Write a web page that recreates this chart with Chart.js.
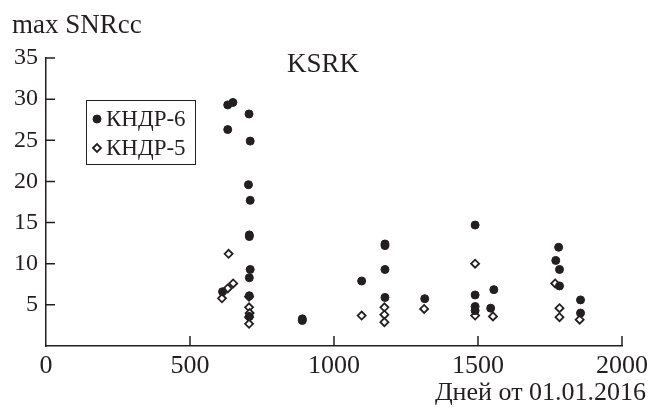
<!DOCTYPE html>
<html>
<head>
<meta charset="utf-8">
<script src="https://cdn.jsdelivr.net/npm/chart.js@4.4.1/dist/chart.umd.min.js"></script>
<style>
html, body { margin: 0; padding: 0; background: #fff; }
</style>
</head>
<body>
<canvas id="myChart" width="661" height="410"></canvas>
<script>
// КНДР-6 (filled dots)
const kndr6Days = [613, 631, 649, 705, 631, 709, 703, 709, 706, 706, 709, 706, 706, 706, 890, 890,
    1096, 1177, 1177, 1177, 1177, 1315, 1490, 1490, 1490, 1490, 1555, 1544, 1770, 1780, 1783, 1783, 1856, 1856];
const kndr6Snr = [6.6, 29.3, 29.6, 28.2, 26.3, 24.9, 19.6, 17.7, 13.5, 13.3, 9.3, 8.3, 6.1, 3.6, 3.3, 3.1,
    7.9, 12.4, 12.2, 9.3, 5.9, 5.75, 14.7, 6.2, 4.8, 4.3, 6.85, 4.6, 10.4, 12.0, 9.3, 7.3, 5.6, 4.0];

// КНДР-5 (open diamonds)
const kndr5Days = [611, 631, 650, 634, 705, 705, 707, 705, 705, 1096, 1175, 1175, 1175, 1313,
    1490, 1490, 1552, 1768, 1783, 1783, 1853];
const kndr5Snr = [5.8, 7.0, 7.6, 11.2, 6.0, 4.7, 4.0, 3.5, 2.7, 3.7, 4.7, 3.8, 2.9, 4.5,
    10.0, 3.7, 3.6, 7.6, 4.6, 3.5, 3.2];

const seriesNames = ['КНДР-6', 'КНДР-5'];
const xTicks = [0, 500, 1000, 1500, 2000];
const yTicks = [0, 5, 10, 15, 20, 25, 30, 35];

const yTitle = 'max SNRcc';
const xTitle = 'Дней от 01.01.2016';
const chartTitle = 'KSRK';

const ink = '#231f20';
const serif = '"Liberation Serif", "Times New Roman", serif';

function pts(xs, ys) {
    return xs.map((x, i) => ({ x: x, y: ys[i] }));
}

function drawMark(ctx, ds, x, y) {
    ctx.save();
    ctx.lineWidth = ds.pointBorderWidth;
    ctx.strokeStyle = ds.pointBorderColor;
    ctx.fillStyle = ds.pointBackgroundColor;
    ctx.beginPath();
    const r = ds.pointRadius;
    if (ds.pointStyle === 'rectRot') {
        ctx.moveTo(x - r, y);
        ctx.lineTo(x, y - r);
        ctx.lineTo(x + r, y);
        ctx.lineTo(x, y + r);
        ctx.closePath();
    } else {
        ctx.arc(x, y, r, 0, Math.PI * 2);
    }
    ctx.fill();
    ctx.stroke();
    ctx.restore();
}

const decor = {
    id: 'decor',
    afterDraw(chart) {
        const ctx = chart.ctx;
        const xs = chart.scales.x, ys = chart.scales.y;
        const a = chart.chartArea;
        ctx.save();
        // inward tick marks
        ctx.strokeStyle = ink;
        ctx.lineWidth = 1.5;
        ctx.beginPath();
        xs.ticks.forEach((t, i) => {
            if (t.value === 0) return;
            const px = xs.getPixelForTick(i);
            ctx.moveTo(px, a.bottom);
            ctx.lineTo(px, a.bottom - 10);
        });
        ys.ticks.forEach((t, i) => {
            if (t.value === 0) return;
            const py = ys.getPixelForTick(i);
            ctx.moveTo(a.left, py);
            ctx.lineTo(a.left + 9, py);
        });
        ctx.stroke();

        // titles
        ctx.fillStyle = ink;
        ctx.font = '27px ' + serif;
        ctx.textBaseline = 'alphabetic';
        ctx.textAlign = 'left';
        ctx.fillText(yTitle, 12, 33);
        ctx.textAlign = 'center';
        ctx.fillText(chartTitle, 323, 72);
        ctx.font = '26px ' + serif;
        ctx.textAlign = 'right';
        ctx.fillText(xTitle, 646, 400);

        // legend box
        ctx.lineWidth = 1;
        ctx.strokeRect(86.5, 100.5, 109, 64);
        ctx.font = '23px ' + serif;
        ctx.textAlign = 'left';
        ctx.textBaseline = 'middle';
        chart.data.datasets.forEach((ds, i) => {
            const y = 119 + i * 29;
            drawMark(ctx, ds, 97, y);
            ctx.fillStyle = ink;
            ctx.fillText(ds.label, 106, y + 1);
        });
        ctx.restore();
    }
};

let ctx = document.getElementById('myChart').getContext('2d');
let myChart = new Chart(ctx, {
    type: 'scatter',
    data: {
        datasets: [{
            label: seriesNames[0],
            data: pts(kndr6Days, kndr6Snr),
            pointStyle: 'circle',
            pointRadius: 4,
            pointHoverRadius: 4,
            pointBackgroundColor: ink,
            pointBorderColor: ink,
            pointBorderWidth: 1
        }, {
            label: seriesNames[1],
            data: pts(kndr5Days, kndr5Snr),
            pointStyle: 'rectRot',
            pointRadius: 4,
            pointHoverRadius: 4,
            pointBackgroundColor: '#ffffff',
            pointBorderColor: ink,
            pointBorderWidth: 1.8
        }]
    },
    options: {
        responsive: false,
        animation: false,
        events: [],
        layout: {
            padding: { left: 12, right: 39, top: 58, bottom: 30 }
        },
        plugins: {
            legend: { display: false },
            tooltip: { enabled: false }
        },
        scales: {
            x: {
                type: 'linear',
                min: xTicks[0],
                max: xTicks[xTicks.length - 1],
                afterBuildTicks: (s) => { s.ticks = xTicks.map(v => ({ value: v })); },
                afterFit: (s) => { s.height = 34; },
                grid: { display: true, drawOnChartArea: false, drawTicks: false },
                border: { display: true, color: ink, width: 1.5 },
                ticks: {
                    color: ink,
                    padding: 5,
                    maxRotation: 0,
                    font: { family: serif, size: 26 },
                    callback: (v) => String(v)
                }
            },
            y: {
                type: 'linear',
                min: yTicks[0],
                max: yTicks[yTicks.length - 1],
                afterBuildTicks: (s) => { s.ticks = yTicks.map(v => ({ value: v })); },
                afterFit: (s) => { s.width = 34; },
                grid: { display: true, drawOnChartArea: false, drawTicks: false },
                border: { display: true, color: ink, width: 1.5 },
                ticks: {
                    color: ink,
                    padding: 8,
                    font: { family: serif, size: 24 },
                    callback: (v) => v === 0 ? '' : String(v)
                }
            }
        }
    },
    plugins: [decor]
});
</script>
</body>
</html>
